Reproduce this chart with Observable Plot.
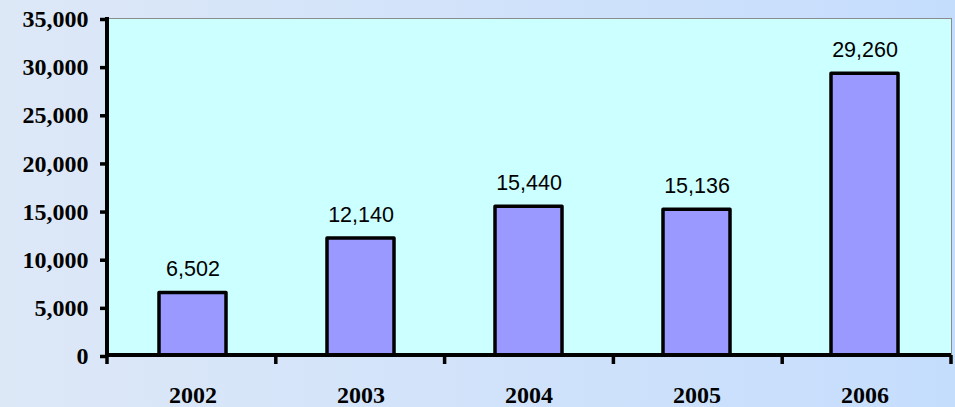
<!DOCTYPE html>
<html>
<head>
<meta charset="utf-8">
<script src="https://cdn.jsdelivr.net/npm/d3@7"></script>
<script src="https://cdn.jsdelivr.net/npm/@observablehq/plot@0.6"></script>
<style>
  html, body { margin: 0; padding: 0; }
  body {
    width: 955px; height: 407px; overflow: hidden;
    background: linear-gradient(to right, #dde8f7, #c5ddfd);
  }
</style>
</head>
<body>
<div id="chart"></div>
<script>
const years = ["2002", "2003", "2004", "2005", "2006"];
const values = [6502, 12140, 15440, 15136, 29260];
const yTicks = [0, 5000, 10000, 15000, 20000, 25000, 30000, 35000];

const data = years.map((year, i) => ({year, value: values[i]}));

const serif = "'Liberation Serif', 'Times New Roman', serif";
const sans = "'Liberation Sans', Arial, sans-serif";
const fmt = d3.format(",");

// Thick left and bottom axis lines, plus x ticks on the category boundaries
function axisFrame(index, scales, vals, dims) {
  const left = dims.marginLeft;
  const right = dims.width - dims.marginRight;
  const top = dims.marginTop;
  const bottom = dims.height - dims.marginBottom;
  const step = (right - left) / years.length;
  const g = d3.create("svg:g").attr("stroke", "black").attr("stroke-linecap", "butt");
  g.append("line")
    .attr("x1", left).attr("x2", left)
    .attr("y1", top - 1).attr("y2", bottom + 2)
    .attr("stroke-width", 4);
  g.append("line")
    .attr("x1", left - 2).attr("x2", right)
    .attr("y1", scales.y(0)).attr("y2", scales.y(0))
    .attr("stroke-width", 4);
  d3.range(years.length + 1).forEach(k => {
    const x = left + k * step;
    g.append("line")
      .attr("x1", x).attr("x2", x)
      .attr("y1", bottom).attr("y2", bottom + 9)
      .attr("stroke-width", 3.5);
  });
  return g.node();
}

const chart = Plot.plot({
  width: 955,
  height: 407,
  marginLeft: 107,
  marginRight: 4,
  marginTop: 18,
  marginBottom: 52,
  style: {background: "none", overflow: "visible"},
  x: {domain: years, paddingInner: 0.6, paddingOuter: 0.3, label: null},
  y: {domain: [0, 35000], label: null},
  marks: [
    Plot.frame({fill: "#ccffff", stroke: "#8c8c8c", strokeWidth: 1}),
    Plot.barY(data, {
      x: "year", y: "value",
      fill: "#9999ff", stroke: "black", strokeWidth: 3.5, strokeLinejoin: "round"
    }),
    Plot.text(data, {
      x: "year", y: "value",
      text: d => fmt(d.value),
      lineAnchor: "bottom", dy: -17,
      fontSize: 21.5, fontFamily: sans, fill: "black"
    }),
    Plot.axisY(yTicks, {
      label: null,
      tickSize: 7, strokeWidth: 3.5, tickPadding: 12, dy: 1,
      tickFormat: fmt,
      fontSize: 24, fontFamily: serif, fontWeight: "bold"
    }),
    Plot.axisX({
      label: null,
      tickSize: 0, tickPadding: 30,
      fontSize: 24, fontFamily: serif, fontWeight: "bold"
    }),
    axisFrame
  ]
});

document.getElementById("chart").appendChild(chart);
</script>
</body>
</html>
